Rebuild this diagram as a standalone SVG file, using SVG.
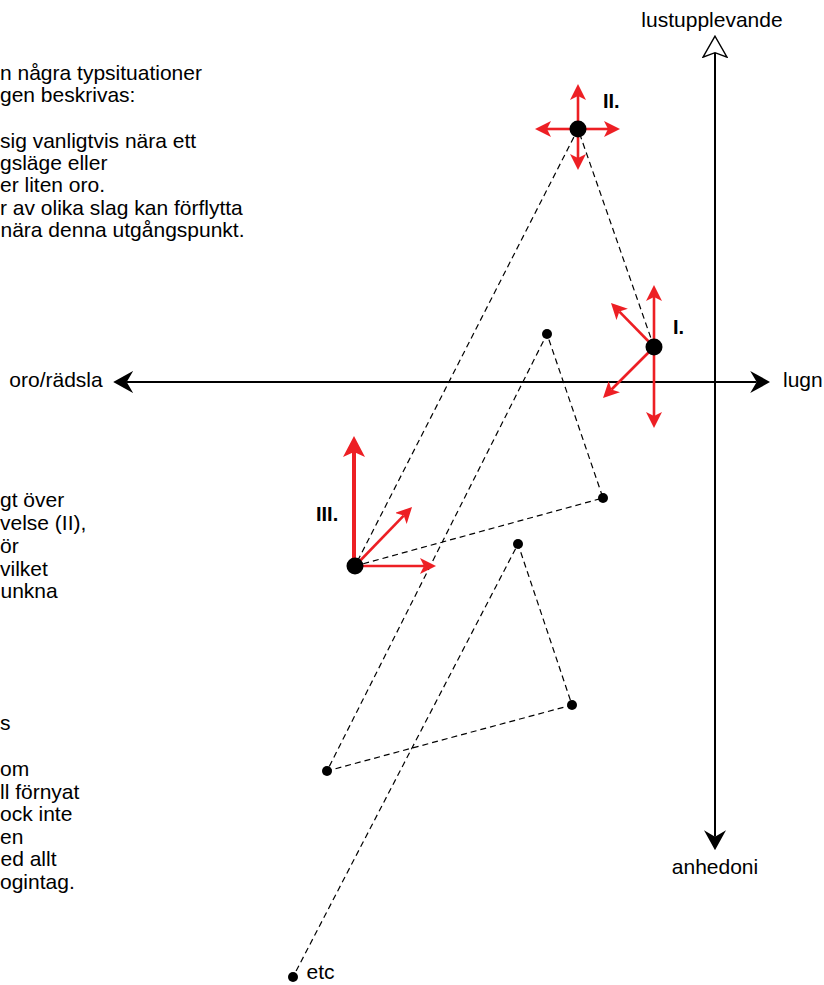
<svg xmlns="http://www.w3.org/2000/svg" width="824" height="985" viewBox="0 0 824 985">
  <style>
    text { font-family: "Liberation Sans", Arial, Helvetica, sans-serif; font-size: 21px; fill: #000; }
    .lbl { font-weight: bold; font-size: 20px; }
    .axis { stroke: #000; stroke-width: 2; fill: none; }
    .dash { stroke: #000; stroke-width: 1.2; stroke-dasharray: 6 4; fill: none; }
    .red { stroke: #ed1f24; stroke-width: 2.6; fill: none; marker-end: url(#ra); }
    .redthick { stroke: #ed1f24; stroke-width: 4; fill: none; marker-end: url(#rab); }
    .big { fill: #000; }
    .small { fill: #000; }
  </style>
  <defs>
    <marker id="ra" viewBox="0 0 16 16" markerUnits="userSpaceOnUse" markerWidth="16" markerHeight="16" refX="4" refY="8" orient="auto">
      <path d="M16,8 L0,0 L4,8 L0,16 Z" fill="#ed1f24"/>
    </marker>
    <marker id="rab" viewBox="0 0 21 22" markerUnits="userSpaceOnUse" markerWidth="21" markerHeight="22" refX="5" refY="11" orient="auto">
      <path d="M21,11 L0,0 L5,11 L0,22 Z" fill="#ed1f24"/>
    </marker>
    <marker id="ba" viewBox="0 0 20 22" markerUnits="userSpaceOnUse" markerWidth="20" markerHeight="22" refX="6.5" refY="11" orient="auto">
      <path d="M20,11 L0,0 L6.5,11 L0,22 Z" fill="#000"/>
    </marker>
    <marker id="bas" viewBox="0 0 20 22" markerUnits="userSpaceOnUse" markerWidth="20" markerHeight="22" refX="6.5" refY="11" orient="auto-start-reverse">
      <path d="M20,11 L0,0 L6.5,11 L0,22 Z" fill="#000"/>
    </marker>
    <marker id="oa" viewBox="-1 -1 23 26" markerUnits="userSpaceOnUse" markerWidth="23" markerHeight="26" refX="4.5" refY="12" orient="auto">
      <path d="M21,12 L0,0 L4.5,12 L0,24 Z" fill="#fff" stroke="#000" stroke-width="1.4" stroke-linejoin="miter"/>
    </marker>
  </defs>

  <g id="axes">
    <line class="axis" x1="126.7" y1="382" x2="756.7" y2="382" marker-start="url(#bas)" marker-end="url(#ba)"/>
    <path class="axis" d="M715,836.7 L715,52.7" marker-start="url(#bas)" marker-end="url(#oa)"/>
    <text x="712" y="27" text-anchor="middle">lustupplevande</text>
    <text x="9.3" y="387">oro/rädsla</text>
    <text x="783" y="387">lugn</text>
    <text x="715" y="874" text-anchor="middle">anhedoni</text>
  </g>

  <g id="connectors">
    <polyline class="dash" points="654,347 578,129 355,566 603,498 547,334 327,771 572,705 518,544 293,977"/>
  </g>

  <g id="text-block-1">
    <text x="0" y="80">n några typsituationer</text>
    <text x="0" y="102.4">gen beskrivas:</text>
    <text x="0" y="147.5">sig vanligtvis nära ett</text>
    <text x="0" y="169.8">gsläge eller</text>
    <text x="0" y="192.2">er liten oro.</text>
    <text x="0" y="214.5">r av olika slag kan förflytta</text>
    <text x="0.5" y="236.8">nära denna utgångspunkt.</text>
  </g>

  <g id="text-block-2">
    <text x="0" y="507">gt över</text>
    <text x="0" y="530">velse (II),</text>
    <text x="0" y="552.7">ör</text>
    <text x="0" y="575.5">vilket</text>
    <text x="0.5" y="598">unkna</text>
  </g>

  <g id="text-block-3">
    <text x="0" y="730">s</text>
    <text x="0" y="776">om</text>
    <text x="0" y="798.5">ll förnyat</text>
    <text x="0" y="821">ock inte</text>
    <text x="0" y="843.5">en</text>
    <text x="0.5" y="866">ed allt</text>
    <text x="0" y="888.5">ogintag.</text>
  </g>

  <g id="node-II">
    <line class="red" x1="578" y1="129" x2="578" y2="96"/>
    <line class="red" x1="578" y1="129" x2="578" y2="158"/>
    <line class="red" x1="578" y1="129" x2="547" y2="129"/>
    <line class="red" x1="578" y1="129" x2="608" y2="129"/>
    <circle class="big" cx="578" cy="129" r="8.5"/>
    <text class="lbl" x="603" y="107.5">II.</text>
  </g>

  <g id="node-I">
    <line class="red" x1="654" y1="347" x2="654" y2="297"/>
    <line class="red" x1="654" y1="347" x2="654" y2="416"/>
    <line class="red" x1="654" y1="347" x2="619.4" y2="311.6"/>
    <line class="red" x1="654" y1="347" x2="611.5" y2="389.5"/>
    <circle class="big" cx="654" cy="347" r="8.5"/>
    <text class="lbl" x="673" y="334">I.</text>
  </g>

  <g id="node-III">
    <line class="redthick" x1="354" y1="566" x2="354" y2="452"/>
    <line class="red" x1="355" y1="566" x2="403.7" y2="515.6"/>
    <line class="red" x1="355" y1="566" x2="424" y2="566"/>
    <circle class="big" cx="355" cy="566" r="8.5"/>
    <text class="lbl" x="316" y="521">III.</text>
  </g>

  <g id="point-1"><circle class="small" cx="547" cy="334" r="5"/></g>
  <g id="point-2"><circle class="small" cx="603" cy="498" r="5"/></g>
  <g id="point-3"><circle class="small" cx="518" cy="544" r="5"/></g>
  <g id="point-4"><circle class="small" cx="572" cy="705" r="5"/></g>
  <g id="point-5"><circle class="small" cx="327" cy="771" r="5"/></g>
  <g id="point-etc">
    <circle class="small" cx="293" cy="977" r="5"/>
    <text x="306.5" y="979">etc</text>
  </g>
</svg>
